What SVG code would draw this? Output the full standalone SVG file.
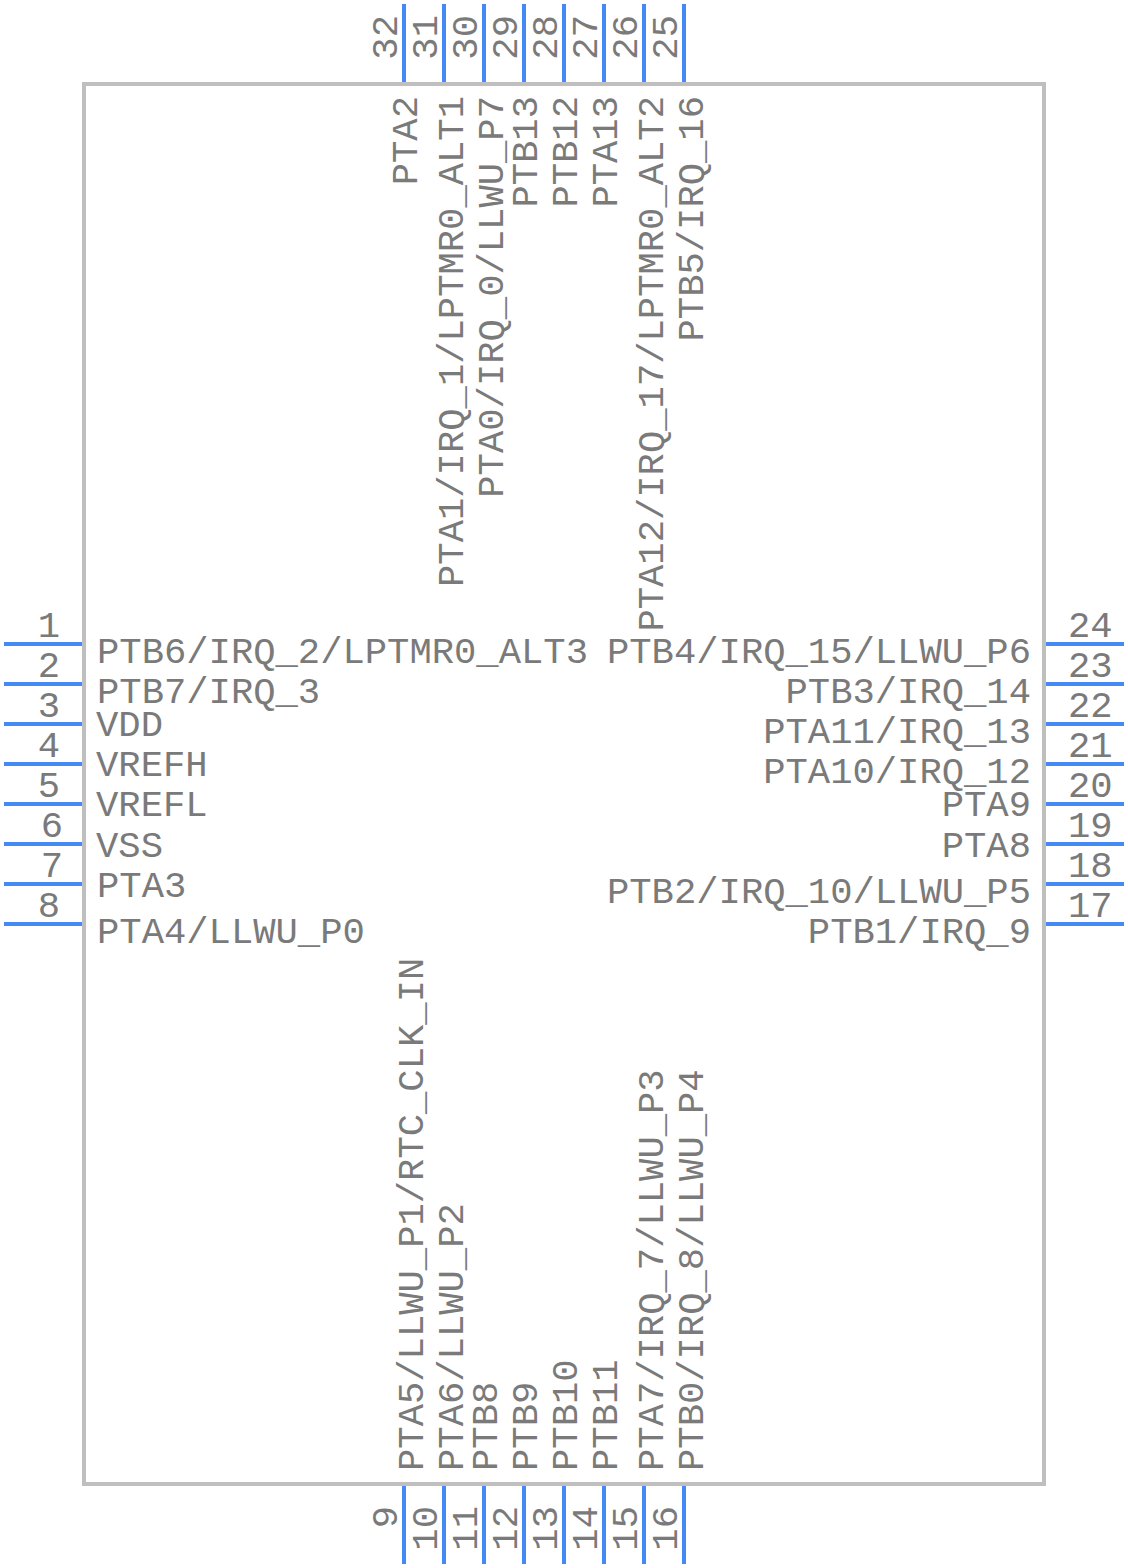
<svg xmlns="http://www.w3.org/2000/svg" width="1128" height="1568" viewBox="0 0 1128 1568">
<style>
text{font-family:"Liberation Mono","Courier New",monospace;font-size:37.2px;fill:#7a7a7a}
.e{text-anchor:end}
.m{text-anchor:middle}
#body{fill:#fff;stroke:#bfbfbf;stroke-width:4}
#pins line{stroke:#4589f5;stroke-width:4}
</style>
<rect width="1128" height="1568" fill="#fff"/>
<g id="body-group"><rect id="body" x="84" y="84" width="960" height="1400"/></g>
<g id="pins">
<line x1="4" y1="644" x2="82" y2="644"/><line x1="4" y1="684" x2="82" y2="684"/><line x1="4" y1="724" x2="82" y2="724"/><line x1="4" y1="764" x2="82" y2="764"/><line x1="4" y1="804" x2="82" y2="804"/><line x1="4" y1="844" x2="82" y2="844"/><line x1="4" y1="884" x2="82" y2="884"/><line x1="4" y1="924" x2="82" y2="924"/>
<line x1="1046" y1="644" x2="1124" y2="644"/><line x1="1046" y1="684" x2="1124" y2="684"/><line x1="1046" y1="724" x2="1124" y2="724"/><line x1="1046" y1="764" x2="1124" y2="764"/><line x1="1046" y1="804" x2="1124" y2="804"/><line x1="1046" y1="844" x2="1124" y2="844"/><line x1="1046" y1="884" x2="1124" y2="884"/><line x1="1046" y1="924" x2="1124" y2="924"/>
<line x1="404" y1="4" x2="404" y2="82"/><line x1="444" y1="4" x2="444" y2="82"/><line x1="484" y1="4" x2="484" y2="82"/><line x1="524" y1="4" x2="524" y2="82"/><line x1="564" y1="4" x2="564" y2="82"/><line x1="604" y1="4" x2="604" y2="82"/><line x1="644" y1="4" x2="644" y2="82"/><line x1="684" y1="4" x2="684" y2="82"/>
<line x1="404" y1="1486" x2="404" y2="1564"/><line x1="444" y1="1486" x2="444" y2="1564"/><line x1="484" y1="1486" x2="484" y2="1564"/><line x1="524" y1="1486" x2="524" y2="1564"/><line x1="564" y1="1486" x2="564" y2="1564"/><line x1="604" y1="1486" x2="604" y2="1564"/><line x1="644" y1="1486" x2="644" y2="1564"/><line x1="684" y1="1486" x2="684" y2="1564"/>
</g>
<g id="pin-numbers">
<text class="m" x="49" y="637">1</text><text class="m" x="49" y="677">2</text><text class="m" x="49" y="717">3</text><text class="m" x="49" y="757">4</text><text class="m" x="49" y="797">5</text><text class="m" x="52" y="837">6</text><text class="m" x="52" y="877">7</text><text class="m" x="49" y="917">8</text>
<text x="1068" y="637">24</text><text x="1068" y="677">23</text><text x="1068" y="717">22</text><text x="1068" y="757">21</text><text x="1068" y="797">20</text><text x="1068" y="837">19</text><text x="1068" y="877">18</text><text x="1068" y="917">17</text>
<text transform="translate(397 15) rotate(-90)" class="e">32</text><text transform="translate(437 15) rotate(-90)" class="e">31</text><text transform="translate(477 15) rotate(-90)" class="e">30</text><text transform="translate(517 15) rotate(-90)" class="e">29</text><text transform="translate(557 15) rotate(-90)" class="e">28</text><text transform="translate(597 15) rotate(-90)" class="e">27</text><text transform="translate(637 15) rotate(-90)" class="e">26</text><text transform="translate(677 15) rotate(-90)" class="e">25</text>
<text transform="translate(397 1506) rotate(-90)" class="e">9</text><text transform="translate(437 1506) rotate(-90)" class="e">10</text><text transform="translate(477 1506) rotate(-90)" class="e">11</text><text transform="translate(517 1506) rotate(-90)" class="e">12</text><text transform="translate(557 1506) rotate(-90)" class="e">13</text><text transform="translate(597 1506) rotate(-90)" class="e">14</text><text transform="translate(637 1506) rotate(-90)" class="e">15</text><text transform="translate(677 1506) rotate(-90)" class="e">16</text>
</g>
<g id="pin-names">
<text x="97" y="663">PTB6/IRQ_2/LPTMR0_ALT3</text><text x="97" y="703">PTB7/IRQ_3</text><text x="96" y="736">VDD</text><text x="96" y="776">VREFH</text><text x="96" y="816">VREFL</text><text x="96" y="857">VSS</text><text x="97" y="897">PTA3</text><text x="97" y="943">PTA4/LLWU_P0</text>
<text class="e" x="1031" y="663">PTB4/IRQ_15/LLWU_P6</text><text class="e" x="1031" y="703">PTB3/IRQ_14</text><text class="e" x="1031" y="743">PTA11/IRQ_13</text><text class="e" x="1031" y="783">PTA10/IRQ_12</text><text class="e" x="1031" y="816">PTA9</text><text class="e" x="1031" y="857">PTA8</text><text class="e" x="1031" y="903">PTB2/IRQ_10/LLWU_P5</text><text class="e" x="1031" y="943">PTB1/IRQ_9</text>
<text class="e" transform="translate(417 96) rotate(-90)">PTA2</text><text class="e" transform="translate(463 96) rotate(-90)">PTA1/IRQ_1/LPTMR0_ALT1</text><text class="e" transform="translate(503 96) rotate(-90)">PTA0/IRQ_0/LLWU_P7</text><text class="e" transform="translate(537 96) rotate(-90)">PTB13</text><text class="e" transform="translate(577 96) rotate(-90)">PTB12</text><text class="e" transform="translate(617 96) rotate(-90)">PTA13</text><text class="e" transform="translate(663 96) rotate(-90)">PTA12/IRQ_17/LPTMR0_ALT2</text><text class="e" transform="translate(703 96) rotate(-90)">PTB5/IRQ_16</text>
<text transform="translate(423 1471) rotate(-90)">PTA5/LLWU_P1/RTC_CLK_IN</text><text transform="translate(463 1471) rotate(-90)">PTA6/LLWU_P2</text><text transform="translate(497 1471) rotate(-90)">PTB8</text><text transform="translate(537 1471) rotate(-90)">PTB9</text><text transform="translate(577 1471) rotate(-90)">PTB10</text><text transform="translate(617 1471) rotate(-90)">PTB11</text><text transform="translate(663 1471) rotate(-90)">PTA7/IRQ_7/LLWU_P3</text><text transform="translate(703 1471) rotate(-90)">PTB0/IRQ_8/LLWU_P4</text>
</g>
</svg>
